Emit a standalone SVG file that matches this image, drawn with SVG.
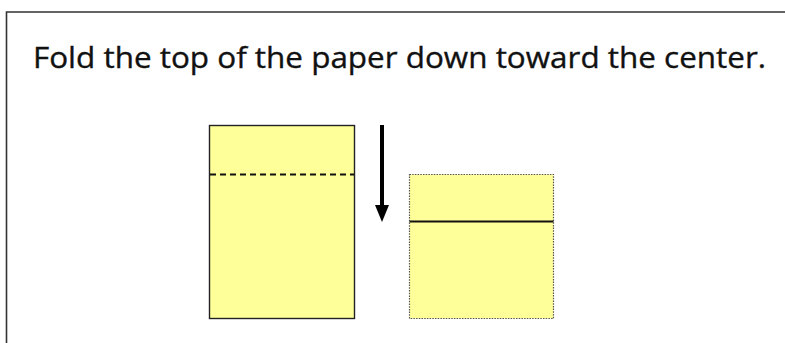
<svg xmlns="http://www.w3.org/2000/svg" width="785" height="343" viewBox="0 0 785 343">
  <style>
    .frame { fill: none; stroke: #333; stroke-width: 1.6; }
    .edge { fill: #FFFF99; stroke: #222; stroke-width: 1.4; }
    .edge-dotted { fill: #FFFF99; stroke: #555; stroke-width: 1.2; stroke-dasharray: 1.5 1.2; }
    .fold-dash { stroke: #111; stroke-width: 1.8; stroke-dasharray: 6 4; }
    .fold-solid { stroke: #111; stroke-width: 1.8; }
    .title { font-family: "Open Sans", "Noto Sans", "Liberation Sans", sans-serif; font-size: 29px; fill: #111; stroke: #111; stroke-width: 0.35; }
  </style>

  <rect width="785" height="343" fill="#fff"/>
  <!-- slide frame running off the right and bottom edges -->
  <path class="frame" d="M6.5,343 V12 H785"/>

  <text class="title" x="33" y="68" textLength="733" lengthAdjust="spacingAndGlyphs">Fold the top of the paper down toward the center.</text>

  <g id="paper-unfolded">
    <rect class="edge" x="209.5" y="125.5" width="145" height="193"/>
    <line class="fold-dash" x1="210" y1="174.5" x2="354" y2="174.5"/>
  </g>

  <g id="paper-folded">
    <rect class="edge-dotted" x="409.5" y="174.5" width="144" height="144"/>
    <line class="fold-solid" x1="409.5" y1="221.5" x2="553.5" y2="221.5"/>
  </g>

  <g id="connectors">
    <line x1="382" y1="125" x2="382" y2="206" stroke="#000" stroke-width="4"/>
    <polygon points="375,205 389,205 382,222" fill="#000"/>
  </g>
</svg>
